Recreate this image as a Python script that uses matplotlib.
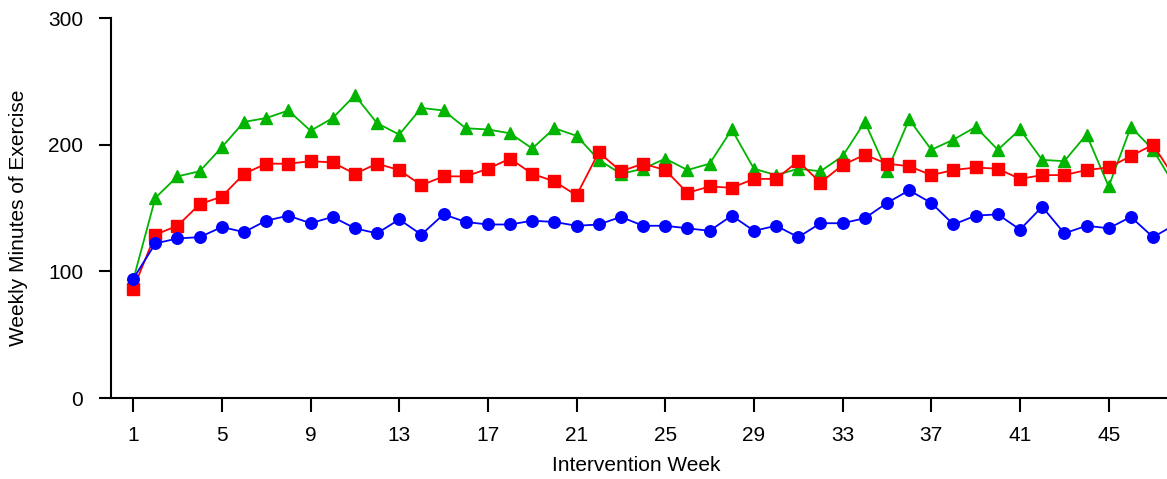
#!/usr/bin/env python3
"""Weekly minutes of exercise per intervention week, three groups."""
import numpy as np
import matplotlib
matplotlib.use("Agg")
import matplotlib.pyplot as plt


# ---------------------------------------------------------------------------
# Data
# ---------------------------------------------------------------------------

weeks = np.arange(1, 49)

blue_minutes = [94, 122, 126, 127, 135, 131, 140, 144, 138, 143, 134, 130,
                141, 129, 145, 139, 137, 137, 140, 139, 136, 137, 143, 136,
                136, 134, 132, 144, 132, 136, 127, 138, 138, 142, 154, 164,
                154, 137, 144, 145, 133, 151, 130, 136, 134, 143, 127, 137]

red_minutes = [86, 129, 136, 153, 159, 177, 185, 185, 187, 186, 177, 185,
               180, 168, 175, 175, 181, 189, 177, 171, 160, 194, 179, 185,
               180, 162, 167, 166, 173, 173, 187, 170, 184, 192, 185, 183,
               176, 180, 182, 181, 173, 176, 176, 180, 182, 191, 200, 173]

green_minutes = [93, 158, 175, 179, 198, 218, 221, 227, 211, 221, 239, 217,
                 208, 229, 227, 213, 212, 209, 197, 213, 207, 188, 177, 181,
                 189, 180, 185, 212, 181, 176, 181, 179, 191, 218, 179, 220,
                 196, 204, 214, 196, 212, 188, 187, 208, 167, 214, 196, 167]

x_ticks = np.arange(1, 46, 4)
y_ticks = [0, 100, 200, 300]


def main():
    plt.rcParams["font.family"] = ["Liberation Sans", "DejaVu Sans"]

    fig = plt.figure(figsize=(11.67, 4.79), dpi=100)
    # axes runs off the right edge of the figure, like the original crop
    ax = fig.add_axes([0.0951, 0.169, 0.9049, 0.7934])

    ax.plot(weeks, green_minutes, color="#00b400", marker="^", ms=8.5,
            lw=1.3, zorder=2)
    ax.plot(weeks, red_minutes, color="#ff0000", marker="s", ms=8.5,
            lw=1.3, zorder=3)
    ax.plot(weeks, blue_minutes, color="#0000ff", marker="o", ms=8.3,
            lw=1.3, zorder=4)

    ax.set_xlim(0, 47.63)
    ax.set_ylim(0, 300)
    ax.set_xticks(x_ticks)
    ax.set_yticks(y_ticks)

    for side in ("top", "right"):
        ax.spines[side].set_visible(False)
    for side in ("left", "bottom"):
        ax.spines[side].set_linewidth(1.5)

    ax.tick_params(axis="both", direction="out", width=1.5, labelsize=15)
    ax.tick_params(axis="x", length=10, pad=10)
    ax.tick_params(axis="y", length=9, pad=11)

    ax.set_xlabel("Intervention Week", fontsize=15)
    ax.set_ylabel("Weekly Minutes of Exercise", fontsize=15)
    ax.xaxis.set_label_coords(0.497, -0.152)
    ax.yaxis.set_label_coords(-0.079, 0.475)

    fig.savefig("out.png", dpi=100)


if __name__ == "__main__":
    main()
